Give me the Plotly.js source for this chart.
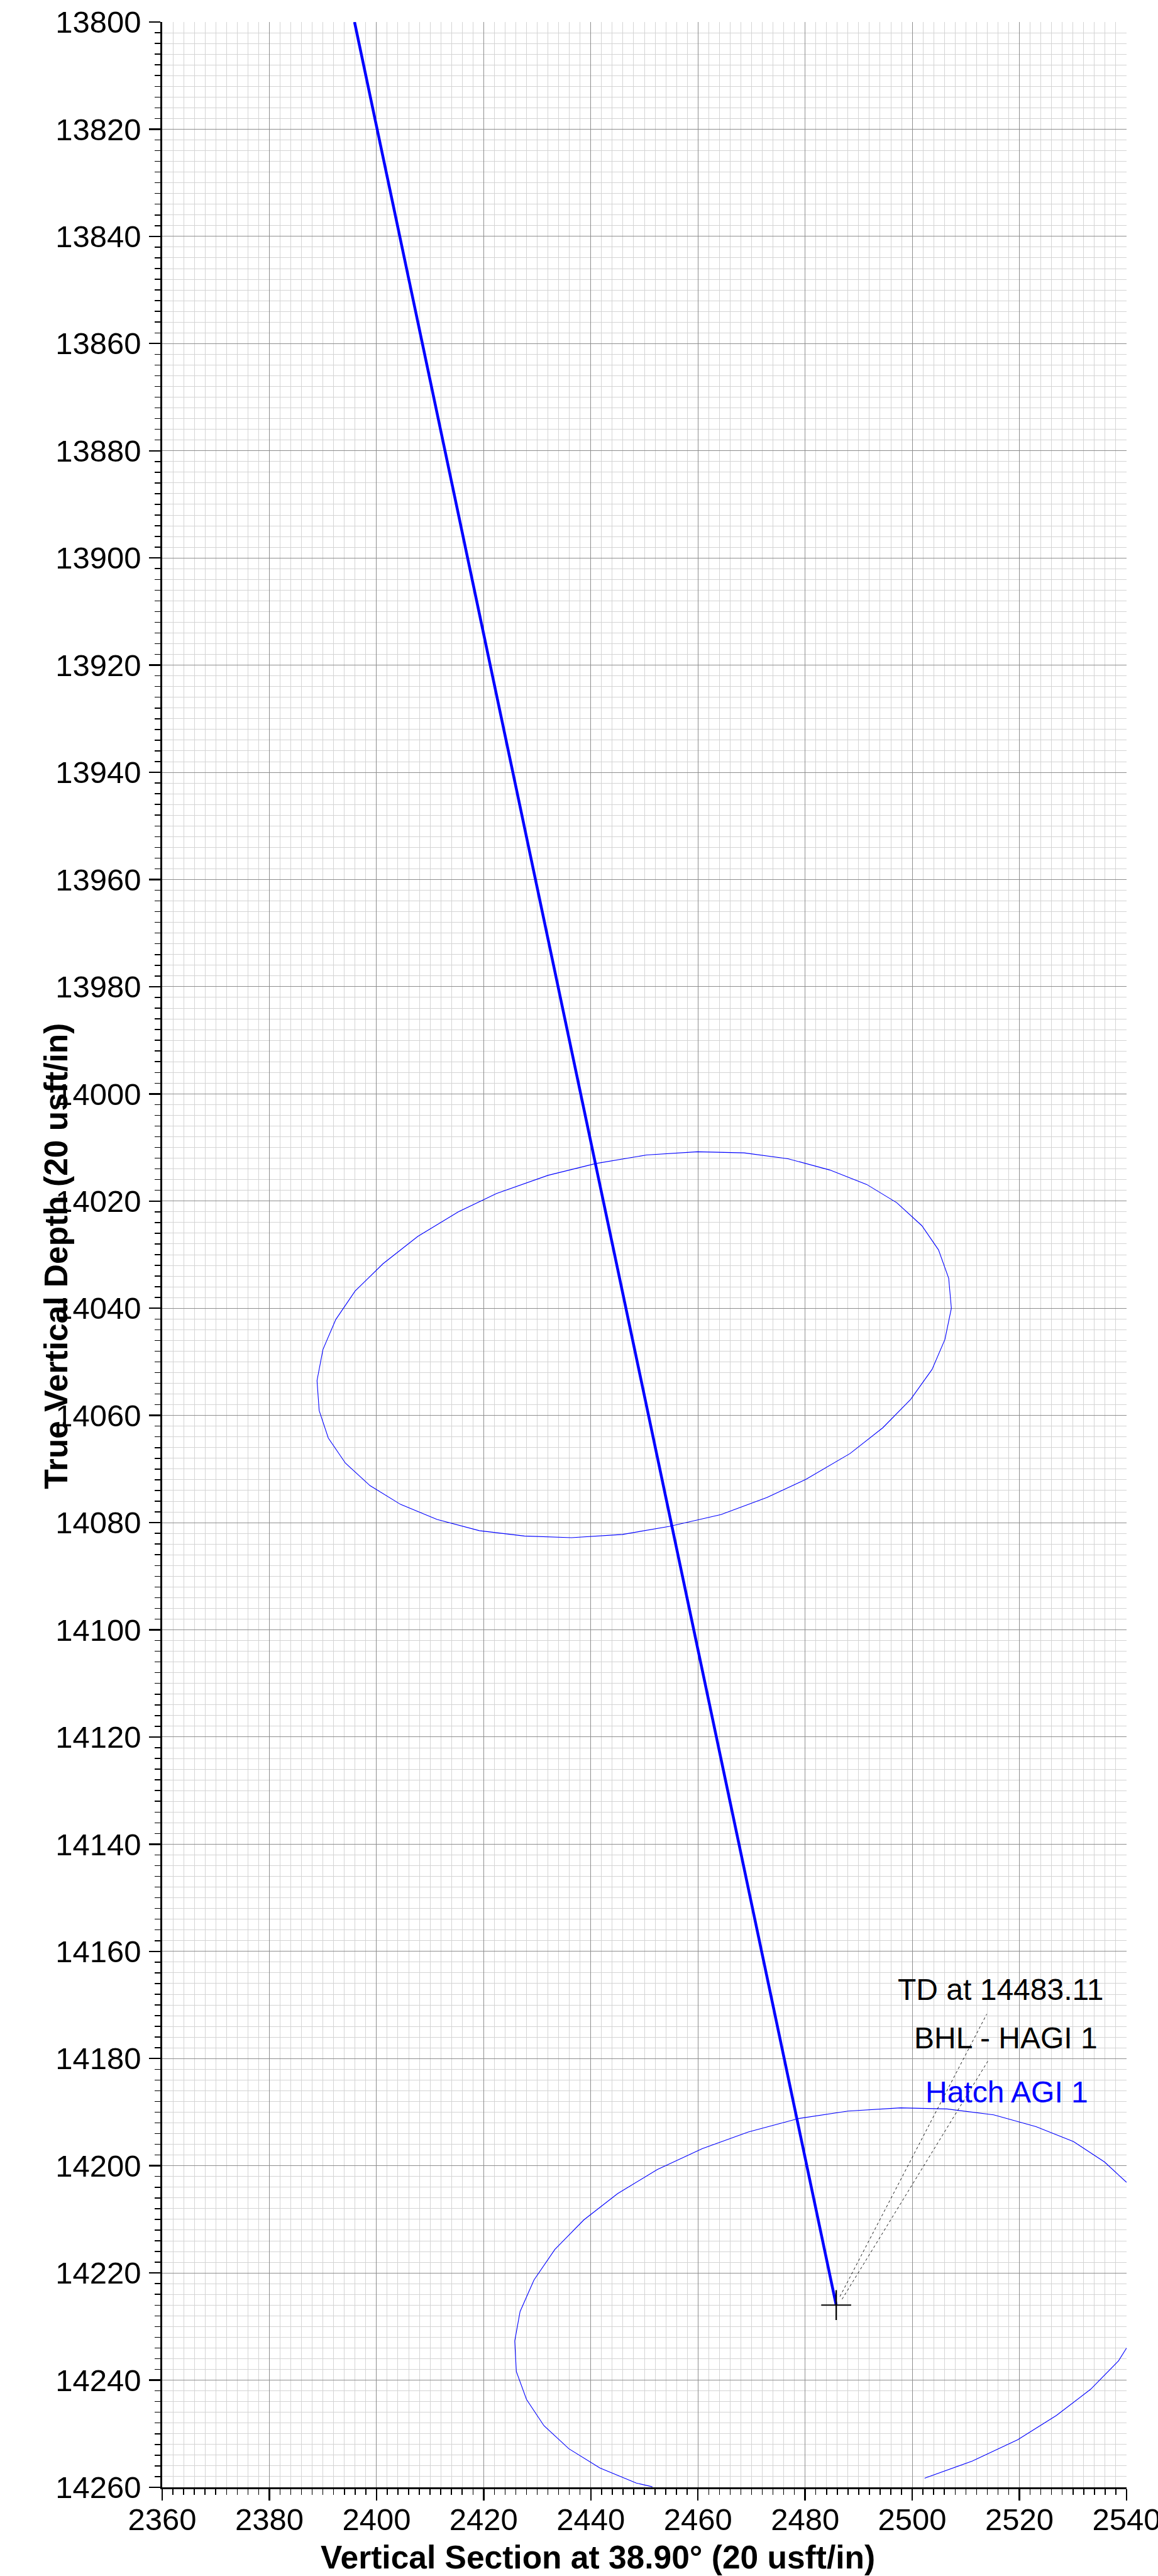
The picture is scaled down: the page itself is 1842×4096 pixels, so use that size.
<!DOCTYPE html>
<html>
<head>
<meta charset="utf-8">
<script src="https://cdn.plot.ly/plotly-3.0.1.min.js"></script>
<style>
html, body { margin: 0; padding: 0; background: #ffffff; }
#chart { width: 1842px; height: 4096px; }
</style>
</head>
<body>
<div id="chart"></div>
<script>
// ---- Data ----
// Well path: Vertical Section (usft) vs True Vertical Depth (usft)
const wellVS  = [2395.9, 2438.0, 2466.5, 2485.8];
const wellTVD = [13800.0, 13999.1, 14134.5, 14226.0];

// Bottom-hole location marker (TD)
const tdVS  = [2485.8];
const tdTVD = [14226.0];

// Uncertainty ellipse 1 (closed)
const ell1VS  = [2459.9, 2468.6, 2476.8, 2484.6, 2491.5, 2497.1, 2501.8, 2504.9, 2506.8, 2507.3,
                 2506.1, 2503.7, 2499.7, 2494.5, 2488.4, 2480.2, 2472.9, 2464.3, 2454.7, 2445.9,
                 2436.4, 2427.6, 2419.2, 2411.3, 2404.5, 2398.8, 2394.2, 2391.0, 2389.3, 2388.9,
                 2390.0, 2392.4, 2396.0, 2401.2, 2407.7, 2415.3, 2422.4, 2432.0, 2440.9, 2450.4, 2459.9];
const ell1TVD = [14010.8, 14011.0, 14012.1, 14014.2, 14016.9, 14020.3, 14024.6, 14029.1, 14034.4, 14040.0,
                 14045.8, 14051.4, 14057.0, 14062.3, 14067.1, 14071.9, 14075.3, 14078.5, 14080.7, 14082.2,
                 14082.8, 14082.5, 14081.5, 14079.4, 14076.6, 14073.1, 14068.9, 14064.2, 14059.1, 14053.5,
                 14047.7, 14042.1, 14036.8, 14031.7, 14026.6, 14022.0, 14018.6, 14015.2, 14013.0, 14011.4, 14010.8];

// Ellipse 2 (target "Hatch AGI 1"), only the part inside the frame
const ell2VS  = [2502.3, 2511.2, 2519.7, 2526.9, 2533.3, 2538.5, 2540.0, null,
                 2540.0, 2535.9, 2530.1, 2523.1, 2515.2, 2506.5, 2497.8, 2488.0, 2478.7, 2469.4,
                 2460.8, 2452.4, 2445.0, 2438.7, 2433.3, 2429.4, 2426.8, 2425.8, 2426.1, 2428.0,
                 2431.25, 2435.9, 2441.7, 2448.5, 2451.5];
const ell2TVD = [14258.3, 14255.1, 14251.1, 14246.6, 14241.7, 14236.4, 14234.0, null,
                 14203.1, 14199.3, 14195.5, 14192.7, 14190.5, 14189.4, 14189.2, 14189.8, 14191.2, 14193.7,
                 14196.8, 14200.7, 14205.2, 14210.1, 14215.6, 14221.3, 14227.2, 14232.7, 14238.4, 14243.6,
                 14248.5, 14252.8, 14256.4, 14259.2, 14259.9];

// Label leader lines (dashed)
const leader1VS  = [2486.5, 2513.9];
const leader1TVD = [14224.4, 14171.7];
const leader2VS  = [2486.9, 2514.1];
const leader2TVD = [14224.9, 14180.5];

// Labels
const labelTexts = ['TD at 14483.11', 'BHL - HAGI 1', 'Hatch AGI 1'];
const labelVS    = [2516.5, 2517.5, 2517.6];
const labelTVD   = [14167.1, 14176.2, 14186.3];
const labelColors = ['#000000', '#000000', '#0000ff'];

// Axes
const xRange = [2360, 2540];
const yRange = [14260, 13800];
const xTitle = 'Vertical Section at 38.90° (20 usft/in)';
const yTitle = 'True Vertical Depth (20 usft/in)';

// ---- Chart ----
const FONT = '"Liberation Sans", Arial, Helvetica, sans-serif';

const traces = [
  { x: ell1VS, y: ell1TVD, mode: 'lines', line: { color: '#0000ff', width: 1.1 }, hoverinfo: 'skip' },
  { x: ell2VS, y: ell2TVD, mode: 'lines', line: { color: '#0000ff', width: 1.1 }, connectgaps: false, hoverinfo: 'skip' },
  { x: leader1VS, y: leader1TVD, mode: 'lines', line: { color: '#000000', width: 0.9, dash: '4px,4px' }, hoverinfo: 'skip' },
  { x: leader2VS, y: leader2TVD, mode: 'lines', line: { color: '#000000', width: 0.9, dash: '4px,4px' }, hoverinfo: 'skip' },
  { x: wellVS, y: wellTVD, mode: 'lines', line: { color: '#0000ff', width: 4.5 }, hoverinfo: 'skip' },
  { x: tdVS, y: tdTVD, mode: 'markers',
    marker: { symbol: 'cross-thin', size: 34, color: '#000000', line: { color: '#000000', width: 2.2 } },
    hoverinfo: 'skip' }
];

const axisCommon = {
  dtick: 20,
  tickformat: 'd',
  ticks: 'outside',
  ticklen: 18,
  tickwidth: 2.4,
  tickcolor: '#000000',
  showline: true,
  linecolor: '#000000',
  linewidth: 2.7,
  showgrid: true,
  gridcolor: '#8e8e8e',
  gridwidth: 1,
  zeroline: false,
  ticklabeloverflow: 'allow',
  tickfont: { family: FONT, size: 49, color: '#000000' },
  minor: {
    dtick: 2,
    ticks: 'outside',
    ticklen: 9,
    tickwidth: 1.5,
    tickcolor: '#000000',
    showgrid: true,
    gridcolor: '#d4d4d4',
    gridwidth: 1
  },
  fixedrange: true
};

const layout = {
  width: 1842,
  height: 4096,
  margin: { l: 258, r: 50, t: 35, b: 141, pad: 0 },
  paper_bgcolor: '#ffffff',
  plot_bgcolor: '#ffffff',
  showlegend: false,
  xaxis: Object.assign({}, axisCommon, { range: xRange, tick0: 2360, automargin: false, ticklabelstandoff: -12 }),
  yaxis: Object.assign({}, axisCommon, { range: yRange, tick0: 13800, automargin: false, ticklabelstandoff: 3 }),
  annotations: []
};

labelTexts.forEach(function (t, i) {
  layout.annotations.push({
    text: t, x: labelVS[i], y: labelTVD[i], xref: 'x', yref: 'y',
    xanchor: 'center', yanchor: 'middle', showarrow: false,
    font: { family: FONT, size: 48, color: labelColors[i] }
  });
});

layout.annotations.push({
  text: xTitle, xref: 'paper', yref: 'paper', x: 0.452, y: -0.0283,
  xanchor: 'center', yanchor: 'middle', showarrow: false,
  font: { family: FONT, size: 51.5, color: '#000000', weight: 'bold' }
});
layout.annotations.push({
  text: yTitle, xref: 'paper', yref: 'paper', x: -0.1099, y: 0.4994,
  xanchor: 'center', yanchor: 'middle', showarrow: false, textangle: -90,
  font: { family: FONT, size: 51.5, color: '#000000', weight: 'bold' }
});

Plotly.newPlot('chart', traces, layout, { staticPlot: true, displayModeBar: false, responsive: false });
</script>
</body>
</html>
